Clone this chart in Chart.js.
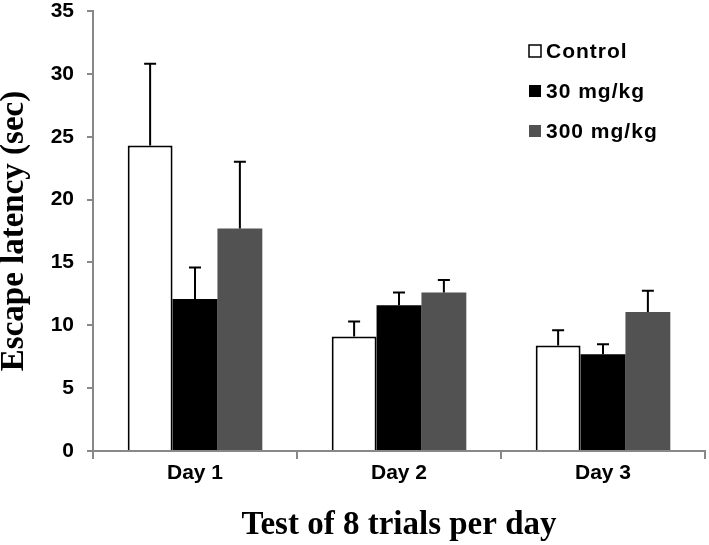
<!DOCTYPE html>
<html>
<head>
<meta charset="utf-8">
<script src="https://cdn.jsdelivr.net/npm/chart.js@4"></script>
<style>
  html, body { margin: 0; padding: 0; background: #fff; }
  #wrap { width: 709px; height: 545px; }
</style>
</head>
<body>
<div id="wrap"><canvas id="chart" width="709" height="545"></canvas></div>
<script>
const days = ["Day 1", "Day 2", "Day 3"];
const groupNames = ["Control", "30 mg/kg", "300 mg/kg"];
const controlMeans = [24.3, 9.1, 8.4];
const controlErrors = [6.5, 1.2, 1.2];
const mg30Means = [12.1, 11.6, 7.7];
const mg30Errors = [2.5, 1.0, 0.8];
const mg300Means = [17.7, 12.6, 11.05];
const mg300Errors = [5.3, 1.0, 1.7];
const yTicks = [0, 5, 10, 15, 20, 25, 30, 35];

const errorSets = [controlErrors, mg30Errors, mg300Errors];

// draws the upward-only SEM whiskers with a cap
const errorBars = {
    id: "errorBars",
    afterDatasetsDraw(chart) {
        const ctx = chart.ctx;
        const y = chart.scales.y;
        ctx.save();
        ctx.strokeStyle = "#000";
        ctx.lineWidth = 2;
        chart.data.datasets.forEach((ds, i) => {
            const meta = chart.getDatasetMeta(i);
            meta.data.forEach((bar, j) => {
                const top = y.getPixelForValue(ds.data[j] + errorSets[i][j]);
                ctx.beginPath();
                ctx.moveTo(bar.x, bar.y);
                ctx.lineTo(bar.x, top);
                ctx.moveTo(bar.x - 6, top);
                ctx.lineTo(bar.x + 6, top);
                ctx.stroke();
            });
        });
        ctx.restore();
    }
};

// legend sits inside the plot, top right
const innerLegend = {
    id: "innerLegend",
    afterDraw(chart) {
        const ctx = chart.ctx;
        ctx.save();
        ctx.font = "bold 21px 'Liberation Sans', Arial, sans-serif";
        ctx.letterSpacing = "1px";
        ctx.textBaseline = "middle";
        chart.data.datasets.forEach((ds, i) => {
            const cy = 51 + i * 40;
            ctx.fillStyle = ds.backgroundColor;
            ctx.fillRect(529, cy - 6, 12, 12);
            if (ds.borderWidth) {
                ctx.strokeStyle = "#000";
                ctx.lineWidth = 1.5;
                ctx.strokeRect(529, cy - 6, 12, 12);
            }
            ctx.fillStyle = "#000";
            ctx.fillText(ds.label, 546, cy + 1);
        });
        ctx.restore();
    }
};

new Chart(document.getElementById("chart"), {
    type: "bar",
    data: {
        labels: days,
        datasets: [
            { label: groupNames[0], data: controlMeans, backgroundColor: "#ffffff", borderColor: "#000000", borderWidth: 2, borderSkipped: "bottom" },
            { label: groupNames[1], data: mg30Means, backgroundColor: "#000000", borderWidth: 0 },
            { label: groupNames[2], data: mg300Means, backgroundColor: "#525252", borderWidth: 0 }
        ]
    },
    options: {
        responsive: false,
        animation: false,
        layout: { padding: { top: 11, right: 4, left: 0, bottom: 0 } },
        datasets: { bar: { categoryPercentage: 0.66, barPercentage: 1.0 } },
        plugins: { legend: { display: false }, tooltip: { enabled: false } },
        scales: {
            x: {
                afterFit(scale) { scale.height = 94; },
                grid: { drawOnChartArea: false, color: "#888", tickLength: 8, lineWidth: 2 },
                border: { color: "#888", width: 2 },
                ticks: { color: "#000", font: { family: "'Liberation Sans', Arial", size: 21, weight: "bold" }, padding: 2 },
                title: { display: true, text: "Test of 8 trials per day", color: "#000", font: { family: "'Liberation Serif', 'Times New Roman'", size: 33, weight: "bold", lineHeight: 1.2 }, padding: 0 }
            },
            y: {
                min: 0,
                max: 35,
                afterFit(scale) {
                    scale.width = 93;
                    scale.paddingTop = 0;
                    scale.paddingBottom = 0;
                },
                afterBuildTicks(scale) { scale.ticks = yTicks.map(v => ({ value: v })); },
                grid: { drawOnChartArea: false, color: "#888", tickLength: 6, lineWidth: 2 },
                border: { color: "#888", width: 2 },
                ticks: { color: "#000", font: { family: "'Liberation Sans', Arial", size: 21, weight: "bold" }, padding: 13 },
                title: { display: true, text: "Escape latency (sec)", color: "#000", font: { family: "'Liberation Serif', 'Times New Roman'", size: 33, weight: "bold", lineHeight: 0.9 }, padding: 0 }
            }
        }
    },
    plugins: [errorBars, innerLegend]
});
</script>
</body>
</html>
